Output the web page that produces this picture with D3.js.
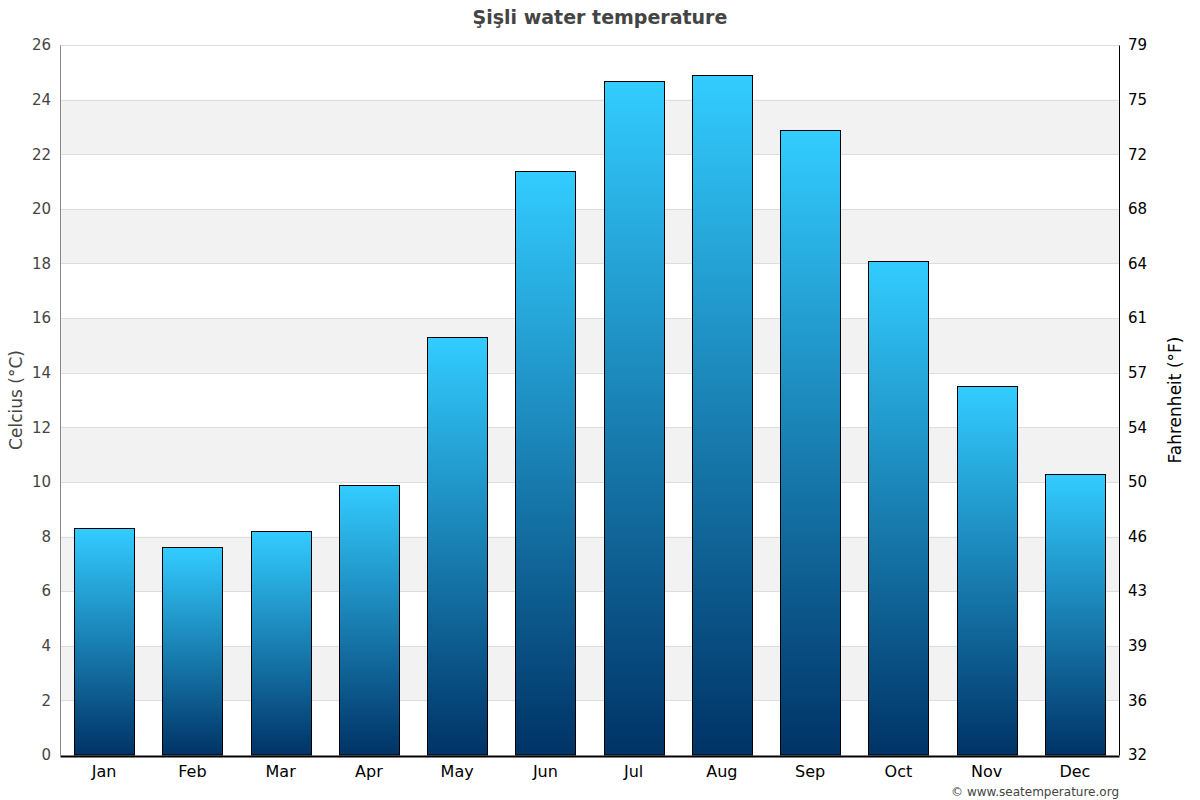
<!DOCTYPE html>
<html>
<head>
<meta charset="utf-8">
<script src="https://cdn.jsdelivr.net/npm/d3@7"></script>
<style>
  body { margin: 0; background: #fff; }
  svg { font-family: "DejaVu Sans", sans-serif; }
  .title { font-size: 19px; font-weight: bold; fill: #444; }
  .axisLabel { font-size: 17px; }
</style>
</head>
<body>
<script>
const MONTHS = ['Jan', 'Feb', 'Mar', 'Apr', 'May', 'Jun', 'Jul', 'Aug', 'Sep', 'Oct', 'Nov', 'Dec'];
const TEMPS_C = [8.3, 7.6, 8.2, 9.9, 15.3, 21.4, 24.7, 24.9, 22.9, 18.1, 13.5, 10.3];
const C_TICKS = [0, 2, 4, 6, 8, 10, 12, 14, 16, 18, 20, 22, 24, 26];
const F_LABELS = [32, 36, 39, 43, 46, 50, 54, 57, 61, 64, 68, 72, 75, 79];

const width = 1200;
const height = 800;
const margin = { top: 45, right: 81, bottom: 45, left: 60 };

const svg = d3.select("body").append("svg")
  .attr("width", width)
  .attr("height", height);

const x = d3.scaleBand()
  .domain(MONTHS)
  .range([margin.left, width - margin.right])
  .paddingInner(0.32)
  .paddingOuter(0.16);

const y = d3.scaleLinear()
  .domain([0, 26])
  .range([height - margin.bottom, margin.top]);

// gradient for bars
const grad = svg.append("defs").append("linearGradient")
  .attr("id", "barGrad")
  .attr("x1", 0).attr("y1", 0).attr("x2", 0).attr("y2", 1);
grad.append("stop").attr("offset", "0%").attr("stop-color", "#33ccff");
grad.append("stop").attr("offset", "100%").attr("stop-color", "#003366");

// alternating bands
svg.append("g")
  .selectAll("rect")
  .data(C_TICKS.filter(d => d % 4 === 2 && d < 26))
  .enter()
  .append("rect")
  .attr("x", margin.left)
  .attr("width", width - margin.right - margin.left)
  .attr("y", d => y(d + 2))
  .attr("height", d => y(d) - y(d + 2))
  .attr("fill", "#f2f2f2");

// gridlines
svg.append("g")
  .selectAll("line")
  .data(C_TICKS.slice(1))
  .enter()
  .append("line")
  .attr("x1", margin.left)
  .attr("x2", width - margin.right)
  .attr("y1", d => Math.round(y(d)) + 0.5)
  .attr("y2", d => Math.round(y(d)) + 0.5)
  .attr("stroke", "#dddddd");

// bars
svg.append("g")
  .selectAll("rect")
  .data(TEMPS_C)
  .enter()
  .append("rect")
  .attr("x", (d, i) => Math.round(x(MONTHS[i])) + 0.5)
  .attr("y", d => Math.round(y(d)) + 0.5)
  .attr("width", Math.round(x.bandwidth()))
  .attr("height", d => y(0) - Math.round(y(d)) - 0.5)
  .attr("fill", "url(#barGrad)")
  .attr("stroke", "#000")
  .attr("stroke-width", 1);

// left axis
const yAxisL = d3.axisLeft(y).tickValues(C_TICKS).tickSize(0).tickPadding(9);
const gl = svg.append("g")
  .attr("transform", `translate(${margin.left},0)`)
  .call(yAxisL);
gl.select(".domain").attr("stroke", "#888");
gl.selectAll("text").attr("font-size", 15).attr("fill", "#444").attr("font-family", "DejaVu Sans");

// right axis
const yAxisR = d3.axisRight(y).tickValues(C_TICKS).tickSize(0).tickPadding(9)
  .tickFormat((d, i) => F_LABELS[i]);
const gr = svg.append("g")
  .attr("transform", `translate(${width - margin.right},0)`)
  .call(yAxisR);
gr.select(".domain").attr("stroke", "#000");
gr.selectAll("text").attr("font-size", 15).attr("fill", "#000").attr("font-family", "DejaVu Sans");

// bottom axis
const xAxis = d3.axisBottom(x).tickSize(0).tickPadding(10);
const gb = svg.append("g")
  .attr("transform", `translate(0,${height - margin.bottom + 1})`)
  .call(xAxis);
gb.select(".domain").attr("stroke", "#000").attr("stroke-width", 2);
gb.selectAll("text").attr("font-size", 16).attr("fill", "#000").attr("font-family", "DejaVu Sans");

// title
svg.append("text")
  .attr("class", "title")
  .attr("x", width / 2)
  .attr("y", 24)
  .attr("text-anchor", "middle")
  .text("Şişli water temperature");

// axis labels
svg.append("text")
  .attr("class", "axisLabel")
  .attr("transform", `translate(22,${(margin.top + height - margin.bottom) / 2}) rotate(-90)`)
  .attr("text-anchor", "middle")
  .attr("fill", "#444")
  .text("Celcius (°C)");

svg.append("text")
  .attr("class", "axisLabel")
  .attr("transform", `translate(1181,${(margin.top + height - margin.bottom) / 2}) rotate(-90)`)
  .attr("text-anchor", "middle")
  .attr("fill", "#000")
  .text("Fahrenheit (°F)");

// credit
svg.append("text")
  .attr("x", width - margin.right)
  .attr("y", 796)
  .attr("text-anchor", "end")
  .attr("font-size", 12)
  .attr("fill", "#444")
  .text("© www.seatemperature.org");
</script>
</body>
</html>
